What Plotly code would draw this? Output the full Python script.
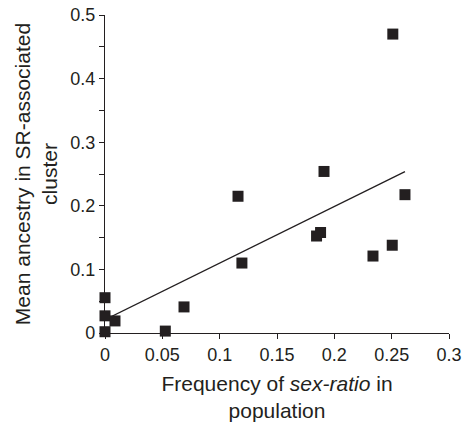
import plotly.graph_objects as go

# Data
sr_frequency = [0.251, 0.191, 0.2616, 0.116, 0.188, 0.1845, 0.2505, 0.2337,
                0.1194, 0.0, 0.0, 0.0, 0.0087, 0.0526, 0.0689]
mean_ancestry = [0.470, 0.254, 0.2175, 0.215, 0.158, 0.1525, 0.138, 0.121,
                 0.110, 0.0555, 0.027, 0.002, 0.019, 0.003, 0.041]

# Trend line parameters
trend_intercept = 0.021
trend_slope = 0.89

x_ticks = [0, 0.05, 0.1, 0.15, 0.2, 0.25, 0.3]
x_tick_labels = ["0", "0.05", "0.1", "0.15", "0.2", "0.25", "0.3"]
y_ticks = [0, 0.1, 0.2, 0.3, 0.4, 0.5]
y_tick_labels = ["0", "0.1", "0.2", "0.3", "0.4", "0.5"]

ink = "#231f20"
font_family = "Liberation Sans, Arial, sans-serif"

trend_x = [min(sr_frequency), max(sr_frequency)]
trend_y = [trend_intercept + trend_slope * v for v in trend_x]

fig = go.Figure()
fig.add_trace(go.Scatter(
    x=trend_x, y=trend_y, mode="lines",
    line=dict(color=ink, width=1.3),
    hoverinfo="skip", showlegend=False, cliponaxis=False,
))
fig.add_trace(go.Scatter(
    x=sr_frequency, y=mean_ancestry, mode="markers",
    marker=dict(symbol="square", size=11, color=ink, line=dict(width=0)),
    showlegend=False, cliponaxis=False,
))

fig.update_layout(
    width=465, height=422,
    margin=dict(l=105, r=16, t=15, b=89),
    paper_bgcolor="white", plot_bgcolor="white",
    font=dict(family=font_family, color=ink, size=18),
    xaxis=dict(
        range=[0, 0.3], showgrid=False, zeroline=False, automargin=False,
        showline=True, linecolor=ink, linewidth=1.3,
        ticks="outside", ticklen=5, tickwidth=1.3, tickcolor=ink,
        tickvals=x_ticks, ticktext=x_tick_labels,
        tickfont=dict(size=18),
        title=dict(text="Frequency of <i>sex-ratio</i> in<br>population",
                   font=dict(size=21), standoff=13),
        layer="below traces",
    ),
    yaxis=dict(
        range=[0, 0.5], showgrid=False, zeroline=False, automargin=False,
        showline=True, linecolor=ink, linewidth=1.3,
        ticks="outside", ticklen=5, tickwidth=1.3, tickcolor=ink,
        tickvals=y_ticks, ticktext=y_tick_labels,
        tickfont=dict(size=18),
        minor=dict(dtick=0.05, tick0=0, ticks="outside", ticklen=5,
                   tickwidth=1.3, tickcolor=ink, showgrid=False),
        title=dict(text="Mean ancestry in SR-associated<br>cluster",
                   font=dict(size=21), standoff=6),
        layer="below traces",
    ),
)

fig.write_html(
    "out.html",
    config={"displayModeBar": False},
    post_script="document.body.style.margin='0';document.body.style.overflow='hidden';",
)
